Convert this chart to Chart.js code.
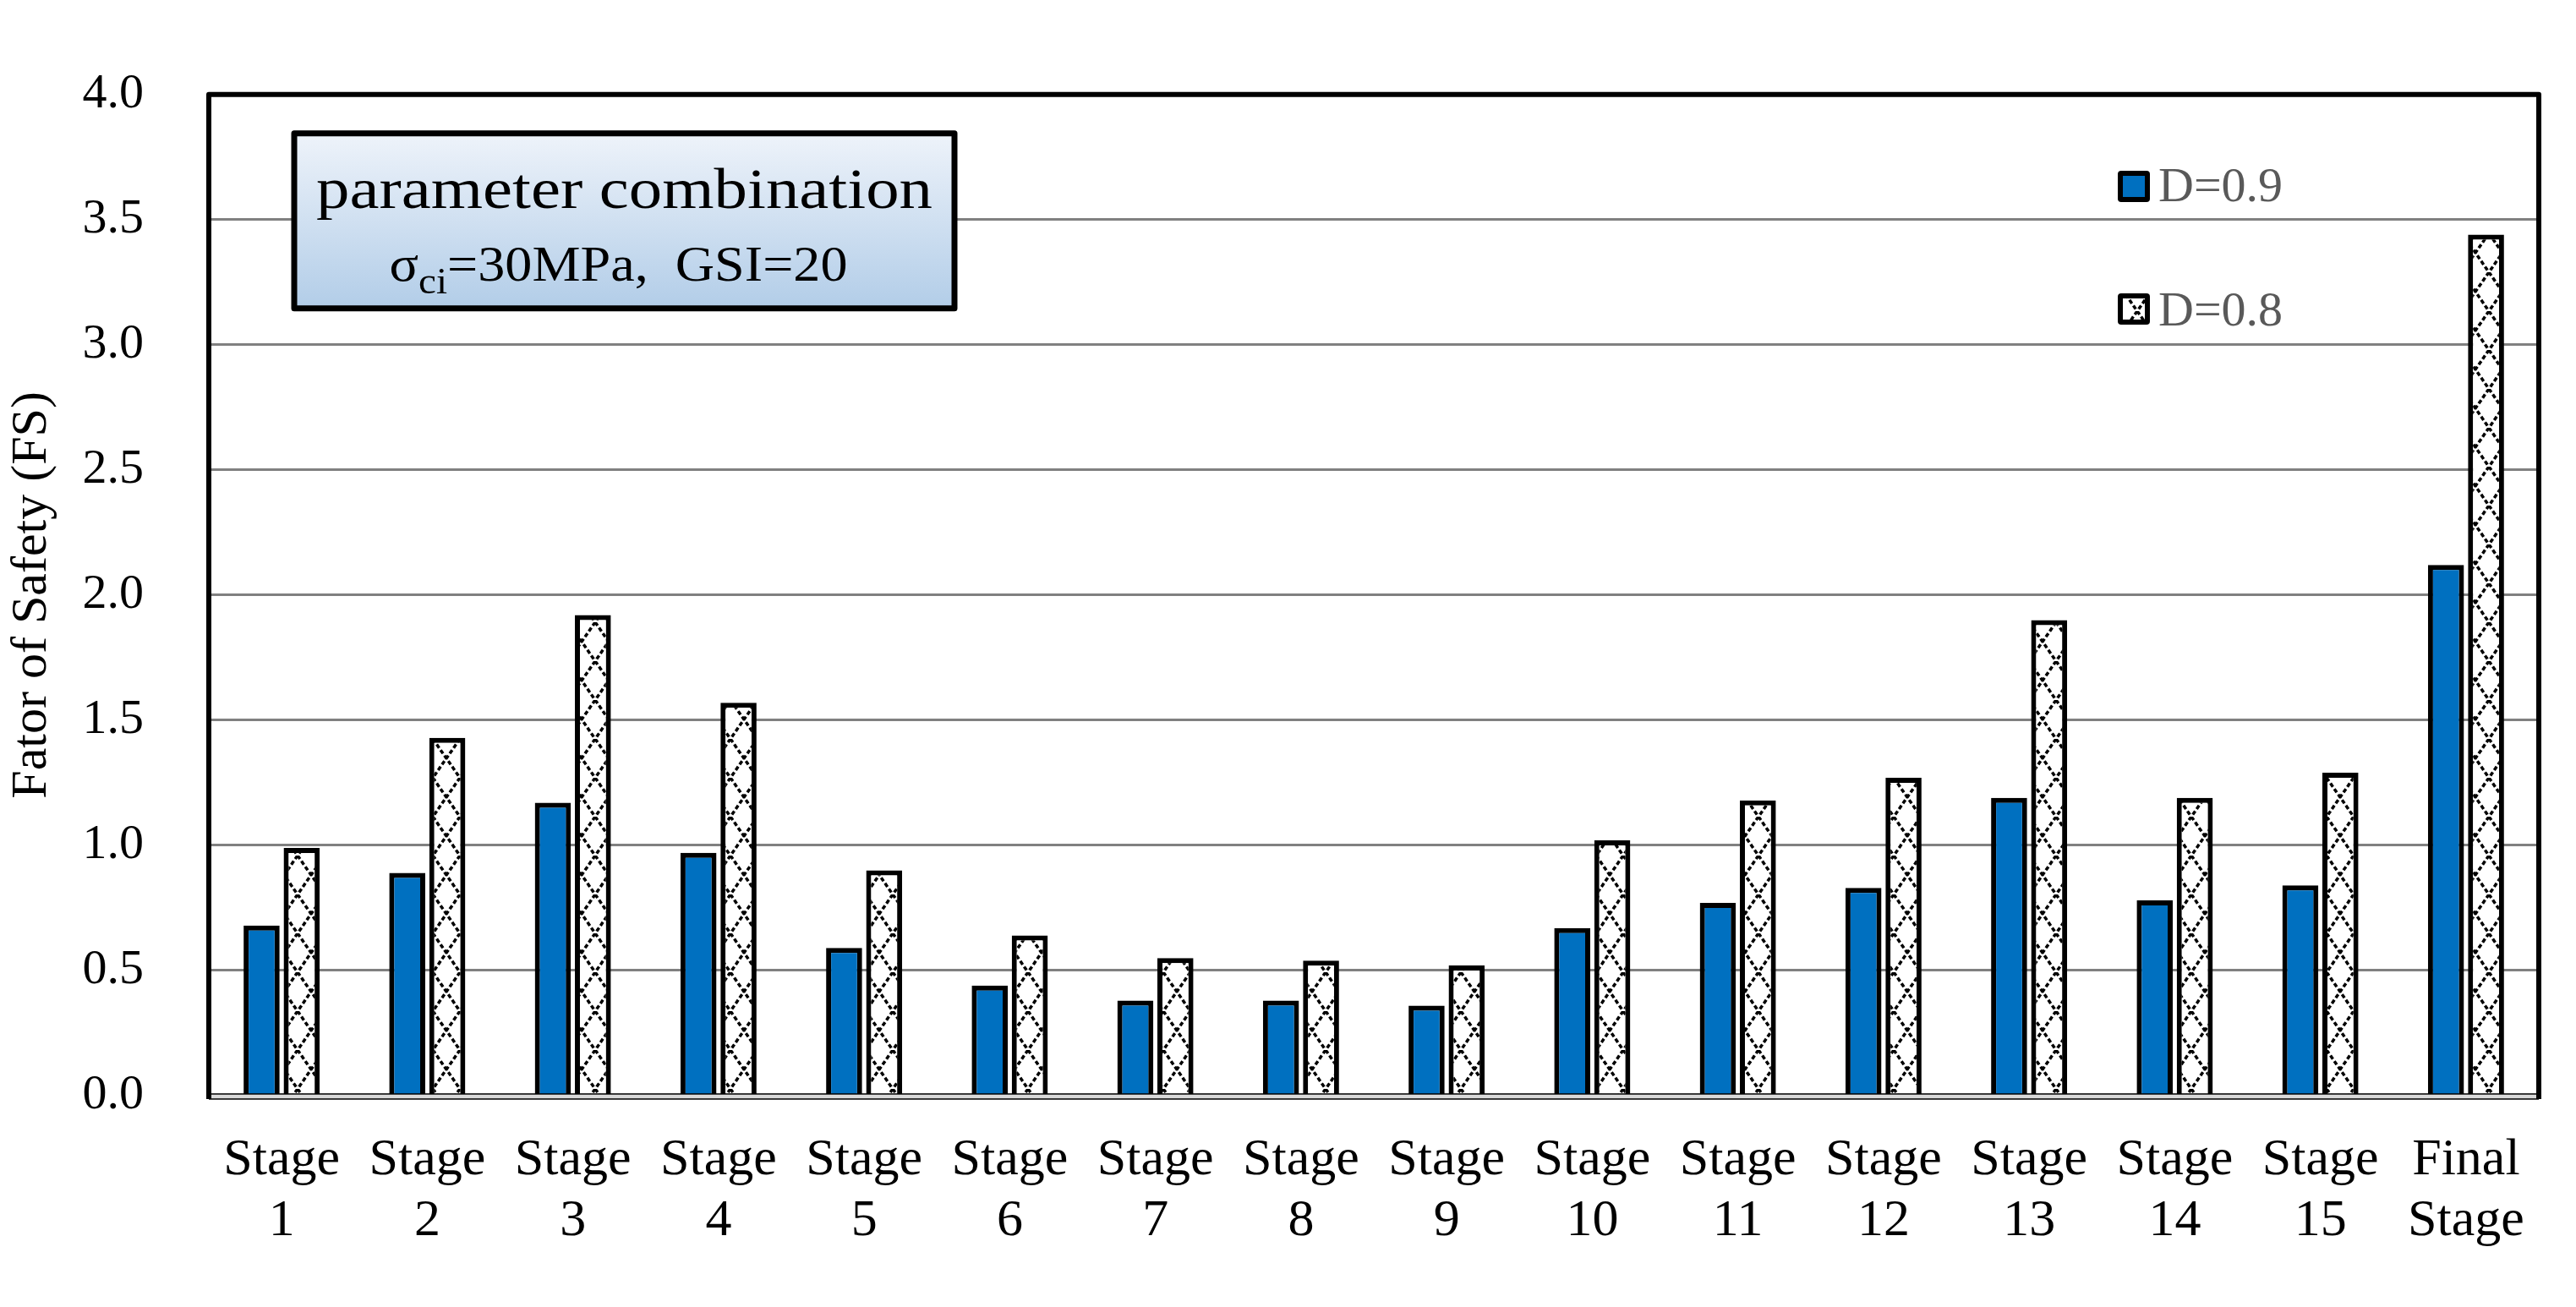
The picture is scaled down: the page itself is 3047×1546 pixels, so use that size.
<!DOCTYPE html>
<html>
<head>
<meta charset="utf-8">
<script src="https://cdn.jsdelivr.net/npm/chart.js@4.4.1/dist/chart.umd.min.js"></script>
<style>
    html, body { margin: 0; padding: 0; background: #fff; overflow: hidden; }
    #wrap { width: 3047px; height: 1546px; position: relative; }
</style>
</head>
<body>
<div id="wrap"><canvas id="fsChart"></canvas></div>
<script>
// Data
const stageLabels = [
    ['Stage', '1'], ['Stage', '2'], ['Stage', '3'], ['Stage', '4'],
    ['Stage', '5'], ['Stage', '6'], ['Stage', '7'], ['Stage', '8'],
    ['Stage', '9'], ['Stage', '10'], ['Stage', '11'], ['Stage', '12'],
    ['Stage', '13'], ['Stage', '14'], ['Stage', '15'], ['Final', 'Stage']
];
const fsD09 = [0.68, 0.89, 1.17, 0.97, 0.59, 0.44, 0.38, 0.38, 0.36, 0.67, 0.77, 0.83, 1.19, 0.78, 0.84, 2.12];
const fsD08 = [0.99, 1.43, 1.92, 1.57, 0.90, 0.64, 0.55, 0.54, 0.52, 1.02, 1.18, 1.27, 1.90, 1.19, 1.29, 3.44];
const seriesNames = ['D=0.9', 'D=0.8'];
const yMin = 0, yMax = 4.0, yStep = 0.5;
const yTitle = 'Fator of Safety (FS)';

const SERIF = '"Liberation Serif", "DejaVu Serif", serif';

// white lattice fill with dotted diagonals (the "D=0.8" bars)
function makeLattice() {
    const c = document.createElement('canvas');
    c.width = 32; c.height = 46;
    const g = c.getContext('2d');
    g.fillStyle = '#fff';
    g.fillRect(0, 0, 32, 46);
    g.strokeStyle = '#000';
    g.lineWidth = 3.5;
    g.setLineDash([5, 3]);
    g.beginPath();
    g.moveTo(0, 0); g.lineTo(32, 46);
    g.moveTo(32, 0); g.lineTo(0, 46);
    g.stroke();
    return g.createPattern(c, 'repeat');
}
const lattice = makeLattice();

// frame, info box and legend drawn on top of the plot
const decorPlugin = {
    id: 'decor',
    afterDatasetsDraw(chart) {
        const ctx = chart.ctx;
        const a = chart.chartArea;
        ctx.save();

        // bottom axis band
        ctx.fillStyle = '#d9d9d9';
        ctx.fillRect(a.left, a.bottom - 2, a.right - a.left, 6);
        ctx.strokeStyle = '#000';
        ctx.lineWidth = 1.5;
        ctx.beginPath();
        ctx.moveTo(a.left, a.bottom - 2); ctx.lineTo(a.right, a.bottom - 2);
        ctx.moveTo(a.left, a.bottom + 4); ctx.lineTo(a.right, a.bottom + 4);
        ctx.stroke();

        // thick frame left / top / right
        ctx.lineWidth = 6;
        ctx.lineJoin = 'round';
        ctx.beginPath();
        ctx.moveTo(a.left, a.bottom + 4);
        ctx.lineTo(a.left, a.top);
        ctx.lineTo(a.right, a.top);
        ctx.lineTo(a.right, a.bottom + 4);
        ctx.stroke();

        // parameter box
        const bx = a.left + 101, by = a.top + 46, bw = 781, bh = 207;
        const grad = ctx.createLinearGradient(0, by, 0, by + bh);
        grad.addColorStop(0, '#eef3fa');
        grad.addColorStop(1, '#b2cde8');
        ctx.fillStyle = grad;
        ctx.fillRect(bx, by, bw, bh);
        ctx.lineWidth = 7;
        ctx.strokeStyle = '#000';
        ctx.strokeRect(bx, by, bw, bh);

        const cx = bx + bw / 2;
        ctx.fillStyle = '#000';
        ctx.textBaseline = 'alphabetic';
        ctx.textAlign = 'left';

        // line 1
        ctx.font = '68px ' + SERIF;
        const t1 = 'parameter combination';
        const w1 = ctx.measureText(t1).width;
        const s1 = 729 / w1;
        ctx.save();
        ctx.translate(cx - 729 / 2, by + 88);
        ctx.scale(s1, 1);
        ctx.fillText(t1, 0, 0);
        ctx.restore();

        // line 2: sigma_ci=30MPa,  GSI=20
        const parts = [
            { t: '\u03C3', f: '60px ' + SERIF, dy: 0 },
            { t: 'ci', f: '44px ' + SERIF, dy: 15 },
            { t: '=30MPa,  GSI=20', f: '60px ' + SERIF, dy: 0 }
        ];
        let w2 = 0;
        parts.forEach(p => { ctx.font = p.f; p.w = ctx.measureText(p.t).width; w2 += p.w; });
        const s2 = 542 / w2;
        ctx.save();
        ctx.translate(cx - 542 / 2 - 7, by + 174);
        ctx.scale(s2, 1);
        let px = 0;
        parts.forEach(p => { ctx.font = p.f; ctx.fillText(p.t, px, p.dy); px += p.w; });
        ctx.restore();

        // legend
        chart.data.datasets.forEach((ds, i) => {
            const lx = 2505, ly = 202 + i * 145;
            ctx.fillStyle = '#000';
            ctx.beginPath();
            ctx.roundRect(lx, ly, 38, 37, 4);
            ctx.fill();
            ctx.fillStyle = ds.backgroundColor;
            ctx.fillRect(lx + 6, ly + 6, 26, 25);
            ctx.fillStyle = '#595959';
            ctx.font = '58px ' + SERIF;
            ctx.fillText(ds.label, 2553, 238 + i * 147);
        });

        ctx.restore();
    }
};

const ctxFs = document.getElementById('fsChart');
new Chart(ctxFs, {
    type: 'bar',
    data: {
        labels: stageLabels,
        datasets: [
            {
                label: seriesNames[0],
                data: fsD09,
                backgroundColor: '#0070c0',
                borderColor: '#000',
                borderWidth: 6
            },
            {
                label: seriesNames[1],
                data: fsD08,
                backgroundColor: lattice,
                borderColor: '#000',
                borderWidth: 6
            }
        ]
    },
    options: {
        responsive: true,
        maintainAspectRatio: false,
        animation: false,
        devicePixelRatio: 1,
        layout: { padding: { top: 107, right: 44, left: 0, bottom: 0 } },
        datasets: { bar: { categoryPercentage: 0.55, barPercentage: 0.9 } },
        plugins: {
            legend: { display: false },
            tooltip: { enabled: false }
        },
        scales: {
            x: {
                grid: { display: false, drawTicks: false },
                border: { display: false },
                ticks: {
                    color: '#000',
                    font: { family: SERIF, size: 62, lineHeight: 1.16 },
                    padding: 41,
                    maxRotation: 0,
                    autoSkip: false
                },
                afterFit(scale) { scale.height = 250; }
            },
            y: {
                min: yMin,
                max: yMax,
                grid: { color: '#808080', lineWidth: 3, drawTicks: false },
                border: { display: false },
                ticks: {
                    stepSize: yStep,
                    color: '#000',
                    font: { family: SERIF, size: 58 },
                    padding: 77,
                    callback: v => Number(v).toFixed(1)
                },
                title: {
                    display: true,
                    text: yTitle,
                    color: '#000',
                    font: { family: SERIF, size: 60 },
                    padding: { top: 2, bottom: 0 }
                },
                afterFit(scale) { scale.width = 247; }
            }
        }
    },
    plugins: [decorPlugin]
});
</script>
</body>
</html>
